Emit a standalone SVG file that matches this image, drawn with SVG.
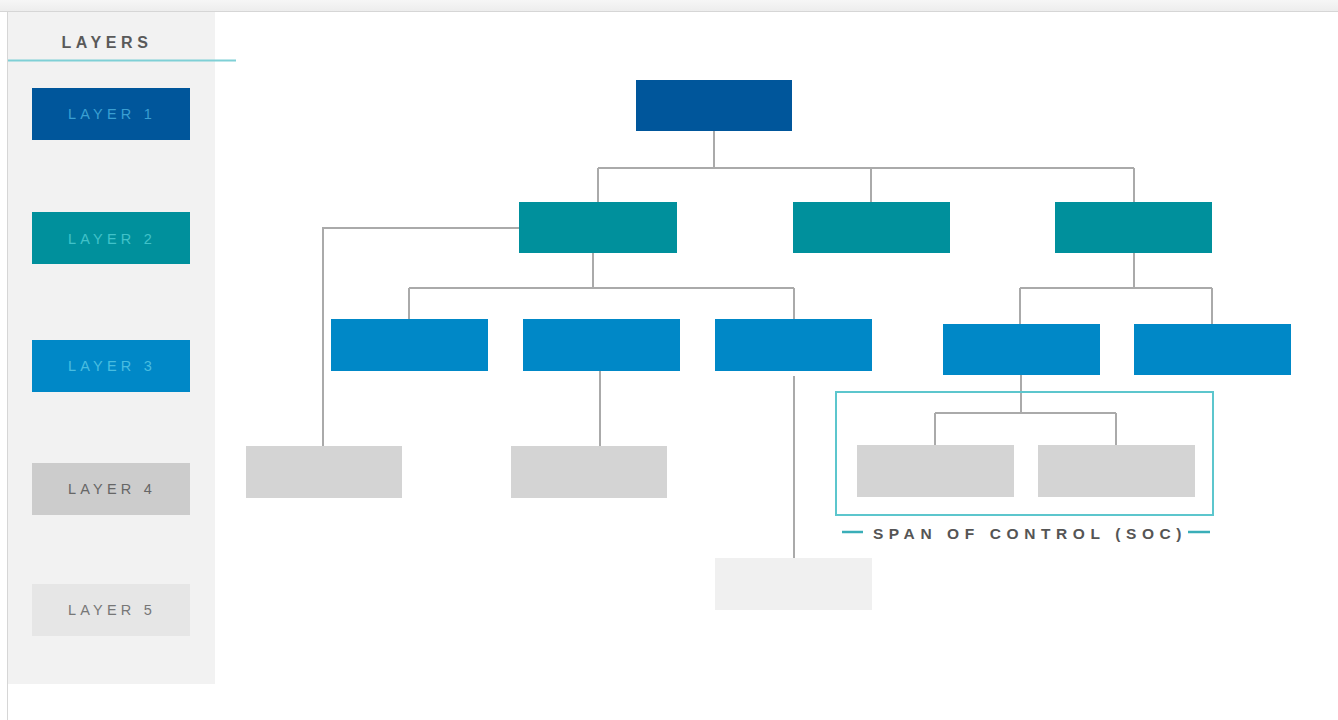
<svg xmlns="http://www.w3.org/2000/svg" width="1338" height="720" viewBox="0 0 1338 720">
<defs>
<linearGradient id="topbar" x1="0" y1="0" x2="0" y2="1">
<stop offset="0" stop-color="#f6f6f6"/>
<stop offset="1" stop-color="#ededed"/>
</linearGradient>
</defs>
<style>
.lbl{font-family:"Liberation Sans","DejaVu Sans",sans-serif;font-size:14.5px;letter-spacing:4.2px;text-anchor:middle;dominant-baseline:central}
.hdr{font-family:"Liberation Sans","DejaVu Sans",sans-serif;font-size:16px;font-weight:bold;letter-spacing:4.6px;fill:#5a5a5a;text-anchor:middle;dominant-baseline:central}
.soc{font-family:"Liberation Sans","DejaVu Sans",sans-serif;font-size:15.5px;font-weight:bold;letter-spacing:5.6px;fill:#555;text-anchor:middle;dominant-baseline:central}
.l1{fill:#00569b}.l2{fill:#00909c}.l3{fill:#0088c7}.l4{fill:#d4d4d4}.l5{fill:#f0f0f0}
.conn{fill:none;stroke:#aaaaaa;stroke-width:2}
</style>
<rect x="0" y="0" width="1338" height="720" fill="#ffffff"/>
<rect x="0" y="0" width="1338" height="11" fill="url(#topbar)"/>
<line x1="0" y1="11.5" x2="1338" y2="11.5" stroke="#d6d6d6" stroke-width="1"/>
<line x1="7.5" y1="12" x2="7.5" y2="720" stroke="#d6d6d6" stroke-width="1"/>
<g id="legend">
<rect x="8" y="12" width="207" height="672" fill="#f2f2f2"/>
<text class="hdr" x="107" y="42">LAYERS</text>
<line x1="8" y1="60.5" x2="236" y2="60.5" stroke="#7fd0d6" stroke-width="2"/>
<g id="legend-layer1"><rect class="l1" x="32" y="88" width="158" height="52"/><text class="lbl" x="112" y="114" fill="#3a9fd2">LAYER 1</text></g>
<g id="legend-layer2"><rect class="l2" x="32" y="212" width="158" height="52"/><text class="lbl" x="112" y="239" fill="#40c2c9">LAYER 2</text></g>
<g id="legend-layer3"><rect class="l3" x="32" y="340" width="158" height="52"/><text class="lbl" x="112" y="366" fill="#48bde0">LAYER 3</text></g>
<g id="legend-layer4"><rect fill="#cccccc" x="32" y="463" width="158" height="52"/><text class="lbl" x="112" y="489" fill="#666">LAYER 4</text></g>
<g id="legend-layer5"><rect fill="#e6e6e6" x="32" y="584" width="158" height="52"/><text class="lbl" x="112" y="610" fill="#777">LAYER 5</text></g>
</g>
<g id="connectors">
<path class="conn" d="M714 131 V168 M598 168 H1134 M598 168 V202 M871 168 V202 M1134 168 V202"/>
<path class="conn" d="M519 228 H323 V446"/>
<path class="conn" d="M593 253 V288 M409 288 H794 M409 288 V319 M794 288 V319"/>
<path class="conn" d="M600 371 V446"/>
<path class="conn" d="M794 376 V558"/>
<path class="conn" d="M1134 253 V288 M1020 288 H1212 M1020 288 V324 M1212 288 V324"/>
<path class="conn" d="M1021 375 V413 M935 413 H1116 M935 413 V445 M1116 413 V445"/>
</g>
<g id="n-top"><rect class="l1" x="636" y="80" width="156" height="51"/></g>
<g id="n-a"><rect class="l2" x="519" y="202" width="158" height="51"/></g>
<g id="n-b"><rect class="l2" x="793" y="202" width="157" height="51"/></g>
<g id="n-c"><rect class="l2" x="1055" y="202" width="157" height="51"/></g>
<g id="n-d"><rect class="l3" x="331" y="319" width="157" height="52"/></g>
<g id="n-e"><rect class="l3" x="523" y="319" width="157" height="52"/></g>
<g id="n-f"><rect class="l3" x="715" y="319" width="157" height="52"/></g>
<g id="n-g"><rect class="l3" x="943" y="324" width="157" height="51"/></g>
<g id="n-h"><rect class="l3" x="1134" y="324" width="157" height="51"/></g>
<g id="n-i"><rect class="l4" x="246" y="446" width="156" height="52"/></g>
<g id="n-j"><rect class="l4" x="511" y="446" width="156" height="52"/></g>
<g id="n-k"><rect class="l4" x="857" y="445" width="157" height="52"/></g>
<g id="n-l"><rect class="l4" x="1038" y="445" width="157" height="52"/></g>
<g id="n-m"><rect class="l5" x="715" y="558" width="157" height="52"/></g>
<g id="soc">
<rect x="836" y="392" width="377" height="123" fill="none" stroke="#5cc6cd" stroke-width="2"/>
<line x1="842" y1="532" x2="863" y2="532" stroke="#3aaeb8" stroke-width="2.5"/>
<line x1="1188" y1="532" x2="1210" y2="532" stroke="#3aaeb8" stroke-width="2.5"/>
<text class="soc" x="1030" y="533">SPAN OF CONTROL (SOC)</text>
</g>
</svg>
